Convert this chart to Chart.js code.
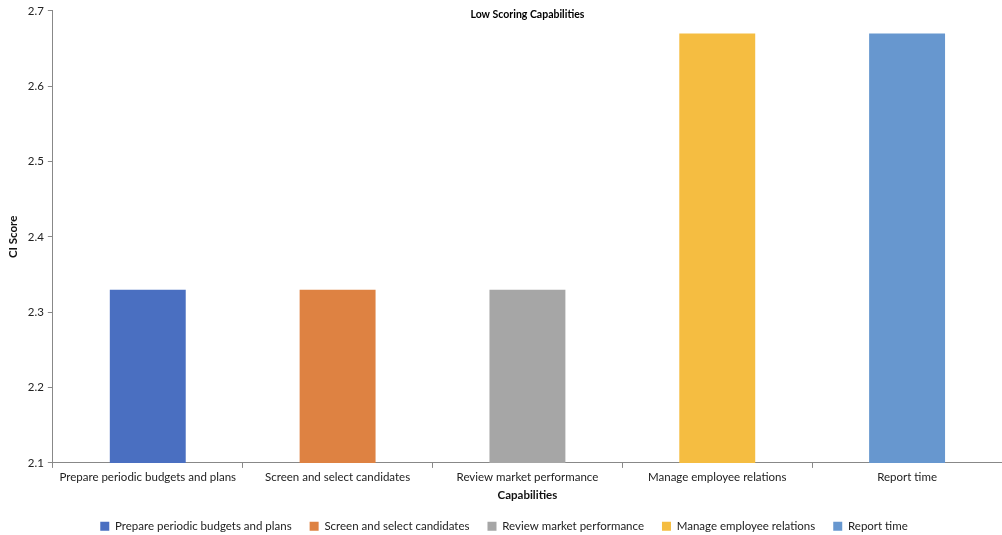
<!DOCTYPE html>
<html>
<head>
<meta charset="utf-8">
<script src="https://cdn.jsdelivr.net/npm/chart.js@4.4.1/dist/chart.umd.min.js"></script>
<style>
  html, body { margin: 0; padding: 0; background: #fff; }
  #wrap { width: 1002px; height: 535px; }
</style>
</head>
<body>
<div id="wrap"><canvas id="myChart"></canvas></div>
<script>
const capabilities = [
    'Prepare periodic budgets and plans',
    'Screen and select candidates',
    'Review market performance',
    'Manage employee relations',
    'Report time'
];
const scores = [2.33, 2.33, 2.33, 2.67, 2.67];
const barColors = ['#4A6FC1', '#DE8242', '#A6A6A6', '#F5BD41', '#6797CF'];

// one dataset per capability so the legend lists them, bar only in its own category
const datasets = capabilities.map((name, i) => ({
    label: name,
    data: capabilities.map((c, j) => (j === i ? scores[i] : null)),
    backgroundColor: barColors[i],
    borderWidth: 0,
    categoryPercentage: 1,
    barPercentage: 0.4
}));

const overlayTitle = {
    id: 'overlayTitle',
    afterDraw(chart) {
        const c = chart.ctx;
        const area = chart.chartArea;
        c.save();
        c.font = 'bold 10.5px Lato, "Open Sans", sans-serif';
        c.fillStyle = '#000';
        c.textAlign = 'center';
        c.textBaseline = 'middle';
        c.fillText('Low Scoring Capabilities', (area.left + area.right) / 2, 15);
        c.restore();
    }
};

Chart.defaults.font.family = 'Lato, "Open Sans", sans-serif';
Chart.defaults.color = '#222';

new Chart(document.getElementById('myChart'), {
    type: 'bar',
    data: { labels: capabilities, datasets: datasets },
    plugins: [overlayTitle],
    options: {
        responsive: true,
        maintainAspectRatio: false,
        animation: false,
        layout: { padding: { top: 6, right: 0, left: 6, bottom: -7 } },
        datasets: { bar: { skipNull: true } },
        plugins: {
            legend: {
                position: 'bottom',
                labels: {
                    boxWidth: 9,
                    boxHeight: 9,
                    padding: 18,
                    font: { size: 11.5 },
                    color: '#222'
                }
            },
            tooltip: { enabled: false }
        },
        scales: {
            x: {
                grid: {
                    display: true,
                    drawOnChartArea: false,
                    tickLength: 5,
                    color: '#888'
                },
                border: { color: '#888', width: 1 },
                ticks: { font: { size: 11.5 }, color: '#222', maxRotation: 0, padding: 2 },
                title: {
                    display: true,
                    text: 'Capabilities',
                    font: { size: 11.5, weight: 'bold' },
                    color: '#111',
                    padding: { top: 3, bottom: 0 }
                }
            },
            y: {
                min: 2.1,
                max: 2.7,
                grid: {
                    display: true,
                    drawOnChartArea: false,
                    tickLength: 5,
                    color: '#888'
                },
                border: { color: '#888', width: 1 },
                ticks: {
                    stepSize: 0.1,
                    font: { size: 11.5 },
                    color: '#222',
                    padding: 4,
                    callback: v => v.toFixed(1)
                },
                title: {
                    display: true,
                    text: 'CI Score',
                    font: { size: 11.5, weight: 'bold' },
                    color: '#111',
                    padding: { top: 0, bottom: 4 }
                }
            }
        }
    }
});
</script>
</body>
</html>
